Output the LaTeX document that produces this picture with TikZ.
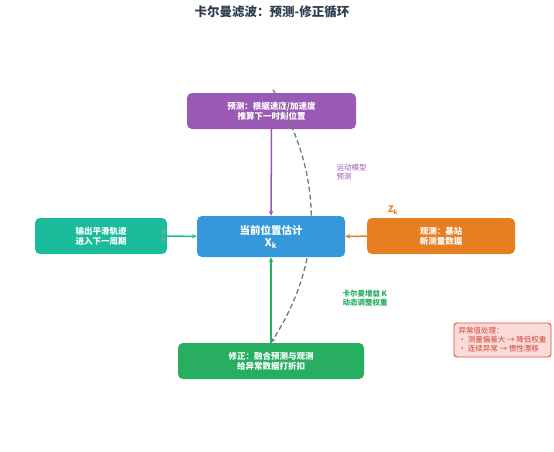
\documentclass[tikz,border=0pt]{standalone}
\usepackage{fontspec}
\setmainfont{Noto Sans CJK SC}
\usetikzlibrary{arrows.meta}

\definecolor{titlecol}{HTML}{2C3E50}
\definecolor{predcol}{HTML}{9B59B6}
\definecolor{estcol}{HTML}{3498DB}
\definecolor{outcol}{HTML}{1ABC9C}
\definecolor{obscol}{HTML}{E67E22}
\definecolor{corrcol}{HTML}{27AE60}
\definecolor{loopcol}{HTML}{6F7C7D}
\definecolor{warnfill}{HTML}{FADBD8}
\definecolor{warndraw}{HTML}{E74C3C}

\begin{document}
\begin{tikzpicture}[x=1pt, y=-1pt,
    box/.style={rounded corners=5pt, text=white, align=center, inner sep=2pt,
        font=\fontsize{8.5}{10}\selectfont\bfseries},
    note/.style={align=left, inner sep=0pt, font=\fontsize{7.5}{9}\selectfont\bfseries},
    link/.style={line width=1.5pt, -{Stealth[length=5pt, width=4.5pt]}}]
    \useasboundingbox[fill=white] (0,0) rectangle (554,451);

    \node[font=\fontsize{12.5}{14}\selectfont\bfseries, text=titlecol] (title) at (272,12) {卡尔曼滤波：预测-修正循环};

    \node[box, fill=predcol, minimum width=169pt, minimum height=36pt] (predict) at (271.5,111) {预测：根据速度/加速度\\推算下一时刻位置};
    \node[box, fill=corrcol, minimum width=186pt, minimum height=36pt] (correct) at (271,361) {修正：融合预测与观测\\给异常数据打折扣};

    % feedback loop, behind the estimate box
    \draw[loopcol, line width=1.3pt, dash pattern=on 5pt off 3pt, -{Stealth[length=5pt, width=4pt]}] ([xshift=1.5pt, yshift=3pt]predict.north) .. controls (324,176) and (324,260) .. (correct.north);

    \node[box, fill=estcol, minimum width=148pt, minimum height=41pt, font=\fontsize{10.5}{12}\selectfont\bfseries] (estimate) at (271,236.5) {当前位置估计\\X\textsubscript{k}};
    \node[box, fill=outcol, minimum width=132pt, minimum height=36pt] (output) at (101,236) {输出平滑轨迹\\进入下一周期};
    \node[box, fill=obscol, minimum width=148pt, minimum height=36pt] (observe) at (441,236) {观测：基站\\新测量数据};

    \node[draw=warndraw, fill=warnfill, text=warndraw!90!black, rounded corners=3pt, line width=0.9pt,
        align=left, inner sep=2.5pt, font=\fontsize{7.5}{9}\selectfont, minimum width=97pt, minimum height=34pt] (anomaly) at (502.5,340)
        {异常值处理：\\• 测量偏差大 → 降低权重\\• 连续异常 → 惯性漂移};

    \node[note, text=predcol, font=\fontsize{7.5}{9}\selectfont] (motion) at (351.5,172) {运动模型\\预测};
    \node[note, text=obscol, font=\fontsize{9}{10}\selectfont\bfseries] (zk) at (393,210) {Z\textsubscript{k}};
    \node[note, text=corrcol] (gain) at (365,298) {卡尔曼增益 K\\动态调整权重};
    \node[text=loopcol!70, align=center, inner sep=0pt, font=\fontsize{5.5}{7}\selectfont] (cycle) at (163.5,236.5) {更\\新};

\draw[link, predcol] (predict) -- (estimate);
\draw[link, corrcol] (correct) -- (estimate);
\draw[link, obscol] (observe) -- (estimate);
\draw[link, outcol] (output) -- (estimate);

\end{tikzpicture}
\end{document}
